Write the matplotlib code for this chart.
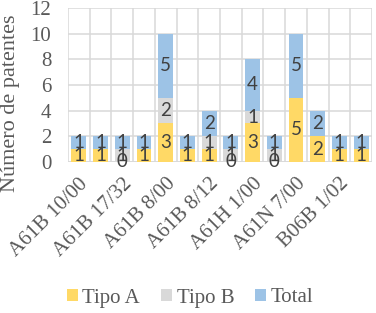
import matplotlib
matplotlib.use("Agg")
import matplotlib.pyplot as plt
import numpy as np

# Data
categories = ["A61B 10/00", "A61B 17/00", "A61B 17/32", "A61B 5/00",
              "A61B 8/00", "A61B 8/08", "A61B 8/12", "A61B 8/14",
              "A61H 1/00", "A61H 23/00", "A61N 7/00", "A61N 7/02",
              "B06B 1/02", "G01S 15/89"]
tipo_a = [1, 1, 0, 1, 3, 1, 1, 0, 3, 0, 5, 2, 1, 1]
tipo_b = [0, 0, 1, 0, 2, 0, 1, 1, 1, 1, 0, 0, 0, 0]
total = [1, 1, 1, 1, 5, 1, 2, 1, 4, 1, 5, 2, 1, 1]

series = [("Tipo A", tipo_a, "#FFD966"),
          ("Tipo B", tipo_b, "#D9D9D9"),
          ("Total", total, "#9DC3E6")]

serif = "Liberation Serif"
label_font = "Lato"
grey_txt = "#595959"

fig = plt.figure(figsize=(3.76, 3.13), dpi=100)
ax = fig.add_axes([68 / 376, 1 - 162 / 313, 304 / 376, 154 / 313])

x = np.arange(len(categories))
bottom = np.zeros(len(categories))
for name, vals, col in series:
    vals = np.array(vals, dtype=float)
    ax.bar(x, vals, 0.68, bottom=bottom, color=col, label=name, zorder=2)
    for xi, b, v in zip(x, bottom, vals):
        # zero labels only show for the first series
        if v == 0 and name != "Tipo A":
            continue
        ax.text(xi, b + v / 2, "%d" % v, ha="center", va="center",
                fontsize=13.5, family=label_font, color="#404040", zorder=3)
    bottom += vals

ax.set_xlim(-0.5, len(categories) - 0.5)
ax.set_ylim(0, 12)
ax.set_yticks(range(0, 13, 2))
ax.set_xticks(x[::2])
ax.set_xticklabels(categories[::2], rotation=45, ha="right",
                   rotation_mode="anchor", family=serif, fontsize=15,
                   color=grey_txt)
ax.set_xticks(np.arange(-0.5, len(categories), 1), minor=True)
for lab in ax.get_yticklabels():
    lab.set_family(serif)
    lab.set_fontsize(15)
    lab.set_color(grey_txt)
ax.tick_params(axis="both", which="both", length=0)
ax.tick_params(axis="y", pad=12)
ax.tick_params(axis="x", pad=9)

ax.grid(axis="y", which="major", color="#D9D9D9", lw=1.1, zorder=0)
ax.grid(axis="x", which="minor", color="#D9D9D9", lw=1.1, zorder=0)
ax.grid(axis="x", which="major", visible=False)
for s in ax.spines.values():
    s.set_visible(False)
ax.axhline(0, color="#D9D9D9", lw=1.1, zorder=1)

fig.text(11 / 376, 1 - 103 / 313, "Número de patentes", rotation=90,
         ha="center", va="center", family=serif, fontsize=16,
         color=grey_txt)

handles, labels = ax.get_legend_handles_labels()
fig.legend(handles, labels, loc="center", bbox_to_anchor=(190 / 376, 1 - 298 / 313),
           ncol=3, frameon=False, prop={"family": serif, "size": 15},
           labelcolor=grey_txt, handlelength=0.55, handleheight=0.55,
           handletextpad=0.2, columnspacing=1.0)

fig.savefig("out.png", dpi=100)
